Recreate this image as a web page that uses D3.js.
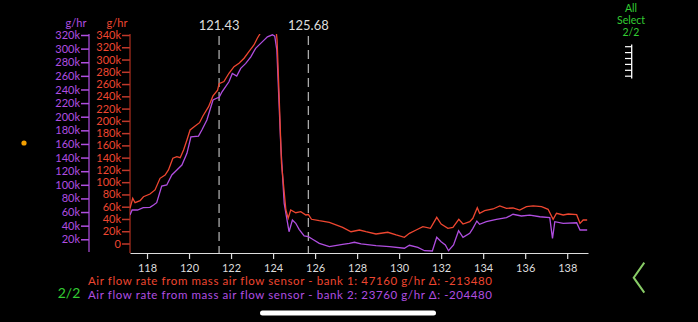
<!DOCTYPE html>
<html>
<head>
<meta charset="utf-8">
<script src="https://cdn.jsdelivr.net/npm/d3@7"></script>
<style>
  html, body { margin: 0; padding: 0; background: #000; }
  svg { display: block; }
  text { font-family: Lato, "Open Sans", sans-serif; }
</style>
</head>
<body>
<svg id="chart" width="698" height="322"></svg>
<script>
// Time stamps (s) and readings (g/hr) for each mass-air-flow bank
const bank1Time = [117.19, 117.32, 117.43, 117.67, 117.83, 118.14, 118.38, 118.62, 118.86, 119.02,
  119.23, 119.42, 119.58, 119.74, 119.90, 120.05, 120.29, 120.50, 120.66, 120.93,
  121.14, 121.36, 121.43, 121.66, 121.90, 122.14, 122.38, 122.62, 122.85, 123.09,
  123.25, 123.38, 123.50, 123.75, 124.00, 124.15, 124.19, 124.29, 124.40, 124.61,
  124.72, 124.84, 125.08, 125.32, 125.56, 125.68, 125.83, 126.20, 126.68, 127.31,
  127.71, 128.11, 128.42, 128.90, 129.46, 129.86, 130.25, 130.49, 130.81, 131.13,
  131.49, 131.79, 132.00, 132.32, 132.56, 132.84, 133.04, 133.36, 133.51, 133.72,
  133.83, 134.07, 134.47, 134.79, 135.11, 135.42, 135.74, 136.06, 136.38, 136.78,
  137.09, 137.33, 137.49, 137.81, 138.05, 138.45, 138.61, 138.76, 138.95];
const bank1Values = [57400, 73700, 66500, 69800, 76300, 80700, 87300, 106300, 111700, 119900,
  139000, 141600, 139900, 152500, 168800, 185100, 191600, 197000, 208000, 223100,
  240600, 250000, 260640, 264000, 277600, 288400, 293900, 302100, 312800, 323700,
  334700, 342000, 352000, 360000, 356000, 345000, 332000, 239400, 130800, 54600,
  41100, 54600, 50200, 51900, 46500, 47160, 39500, 37200, 34600, 26400,
  19200, 22000, 19200, 15500, 18300, 13900, 10100, 16600, 22000, 27400,
  24800, 42700, 31800, 24800, 26400, 39500, 31800, 35600, 41100, 58400,
  49300, 53500, 56300, 61200, 57400, 57900, 54600, 60000, 61200, 60000,
  55800, 39500, 49300, 46500, 48100, 47000, 32900, 38300, 38300];

const bank2Time = [117.19, 117.29, 117.55, 117.82, 118.14, 118.31, 118.46, 118.70, 118.94, 119.18,
  119.42, 119.66, 119.90, 120.09, 120.45, 120.61, 120.85, 121.14, 121.36, 121.43,
  121.57, 121.90, 122.06, 122.27, 122.46, 122.70, 122.94, 123.17, 123.41, 123.57,
  123.73, 123.97, 124.08, 124.18, 124.37, 124.53, 124.76, 124.92, 125.08, 125.24,
  125.48, 125.68, 125.88, 126.20, 126.68, 127.31, 127.63, 127.87, 128.19, 128.90,
  129.54, 130.25, 130.49, 130.89, 131.21, 131.58, 131.79, 132.00, 132.20, 132.35,
  132.59, 132.83, 133.04, 133.36, 133.51, 133.70, 133.83, 134.15, 134.63, 135.11,
  135.42, 135.82, 136.22, 136.70, 137.17, 137.30, 137.41, 137.81, 138.45, 138.61, 138.95];
const bank2Values = [55600, 63000, 63000, 66400, 66900, 70300, 73700, 98200, 99700, 114400,
  121700, 129000, 146200, 170600, 171600, 180400, 195100, 224500, 227800, 228240,
  236600, 251300, 263600, 259700, 271000, 278300, 288000, 300400, 307700, 312500,
  317400, 320300, 318400, 297900, 155900, 72800, 31100, 48300, 43500, 34600,
  24800, 23760, 20000, 14100, 9100, 12600, 14100, 15600, 13100, 10600,
  9100, 6800, 11200, 8200, 3200, 2800, 22900, 16400, 11600, 3200,
  11600, 32600, 22900, 28800, 36100, 46800, 42000, 45800, 49300, 51700,
  56700, 54200, 55600, 53100, 51700, 21400, 45800, 43500, 44300, 33600, 33600];

const xTicks = [118, 120, 122, 124, 126, 128, 130, 132, 134, 136, 138];
const bank1Ticks = d3.range(0, 340001, 20000);
const bank2Ticks = d3.range(20000, 320001, 20000);
const cursorTimes = [121.43, 125.68];
const legendLines = [
  "Air flow rate from mass air flow sensor - bank 1: 47160 g/hr Δ: -213480",
  "Air flow rate from mass air flow sensor - bank 2: 23760 g/hr Δ: -204480"
];

const RED = "#ee4630", PURPLE = "#b04ee0", GREEN = "#33cc33";

const svg = d3.select("#chart");
const plotLeft = 130, plotRight = 588, plotTop = 35, plotBottom = 253;

const x = d3.scaleLinear().domain([117.19, 138.99]).range([plotLeft, plotRight]);
const y1 = d3.scaleLinear().domain([0, 340000]).range([243.5, plotTop]);
const y2 = d3.scaleLinear().domain([0, 320000]).range([252.9, plotTop]);
const fmt = v => v === 0 ? "0" : (v / 1000) + "k";

// plot clip
svg.append("defs").append("clipPath").attr("id", "plotClip")
  .append("rect").attr("x", plotLeft).attr("y", plotTop - 1)
  .attr("width", plotRight - plotLeft).attr("height", plotBottom - plotTop + 1);

// bank 2 axis (purple)
const ax2 = svg.append("g").attr("transform", "translate(89,0)")
  .call(d3.axisLeft(y2).tickValues(bank2Ticks).tickFormat(fmt).tickSize(8).tickPadding(1).tickSizeOuter(0));
ax2.select(".domain").remove();
ax2.selectAll("line").attr("stroke", PURPLE).attr("stroke-width", 1.5);
ax2.selectAll("text").attr("fill", PURPLE).attr("font-size", 11).attr("font-family", "Lato, sans-serif");
svg.append("line").attr("x1", 89).attr("x2", 89).attr("y1", plotTop - 1).attr("y2", 252)
  .attr("stroke", PURPLE).attr("stroke-width", 1.2);
svg.append("text").attr("x", 76).attr("y", 27).attr("text-anchor", "middle")
  .attr("fill", PURPLE).attr("font-size", 11).text("g/hr");

// bank 1 axis (red)
const ax1 = svg.append("g").attr("transform", `translate(${plotLeft},0)`)
  .call(d3.axisLeft(y1).tickValues(bank1Ticks).tickFormat(fmt).tickSize(8).tickPadding(1).tickSizeOuter(0));
ax1.select(".domain").remove();
ax1.selectAll("line").attr("stroke", "#c0392b").attr("stroke-width", 1.5);
ax1.selectAll("text").attr("fill", RED).attr("font-size", 11).attr("font-family", "Lato, sans-serif");
svg.append("line").attr("x1", plotLeft).attr("x2", plotLeft).attr("y1", plotTop - 1).attr("y2", plotBottom)
  .attr("stroke", "#b0301f").attr("stroke-width", 1.2);
svg.append("text").attr("x", 117).attr("y", 27).attr("text-anchor", "middle")
  .attr("fill", RED).attr("font-size", 11).text("g/hr");

// time axis
const axX = svg.append("g").attr("transform", `translate(0,${plotBottom})`)
  .call(d3.axisBottom(x).tickValues(xTicks).tickFormat(d3.format("d")).tickSize(6).tickPadding(5).tickSizeOuter(0));
axX.select(".domain").attr("stroke", "#ddd").attr("stroke-width", 1.2);
axX.selectAll("line").attr("stroke", "#ddd").attr("stroke-width", 1.2);
axX.selectAll("text").attr("fill", "#ddd").attr("font-size", 11).attr("font-family", "Lato, sans-serif");

// cursors
cursorTimes.forEach(t => {
  svg.append("line").attr("x1", x(t)).attr("x2", x(t)).attr("y1", plotTop + 1).attr("y2", plotBottom)
    .attr("stroke", "#aaa").attr("stroke-width", 1.3).attr("stroke-dasharray", "9,5");
  svg.append("text").attr("x", x(t)).attr("y", 30).attr("text-anchor", "middle")
    .attr("fill", "#ddd").attr("font-size", 13).text(t.toFixed(2));
});

// series lines
const plot = svg.append("g").attr("clip-path", "url(#plotClip)");
const line1 = d3.line().x((d, i) => x(bank1Time[i])).y(d => y1(d));
const line2 = d3.line().x((d, i) => x(bank2Time[i])).y(d => y2(d));
plot.append("path").datum(bank2Values).attr("d", line2)
  .attr("fill", "none").attr("stroke", PURPLE).attr("stroke-width", 1.3);
plot.append("path").datum(bank1Values).attr("d", line1)
  .attr("fill", "none").attr("stroke", RED).attr("stroke-width", 1.3);

// legend
svg.append("text").attr("x", 88).attr("y", 285).attr("fill", RED).attr("font-size", 11.5)
  .attr("letter-spacing", 0.6).text(legendLines[0]);
svg.append("text").attr("x", 88).attr("y", 298.5).attr("fill", PURPLE).attr("font-size", 11.5)
  .attr("letter-spacing", 0.6).text(legendLines[1]);
svg.append("text").attr("x", 69).attr("y", 298).attr("text-anchor", "middle").attr("fill", GREEN).attr("font-size", 14).text("2/2");

// side controls
svg.append("circle").attr("cx", 24).attr("cy", 143).attr("r", 2.6).attr("fill", "#f5a000");
["All", "Select", "2/2"].forEach((s, i) => {
  svg.append("text").attr("x", 631).attr("y", 12 + i * 12).attr("text-anchor", "middle")
    .attr("fill", GREEN).attr("font-size", 10.5).text(s);
});
svg.append("line").attr("x1", 631.7).attr("x2", 631.7).attr("y1", 44.5).attr("y2", 78.5)
  .attr("stroke", "#fff").attr("stroke-width", 1.3);
d3.range(6).forEach(i => {
  svg.append("line").attr("x1", 625).attr("x2", 631.7).attr("y1", 46.7 + i * 5.9).attr("y2", 46.7 + i * 5.9)
    .attr("stroke", "#fff").attr("stroke-width", 1.2);
});
svg.append("path").attr("d", "M644.3,262.7 L633.7,277.7 L644.3,292.7")
  .attr("fill", "none").attr("stroke", "#88cc66").attr("stroke-width", 2);
svg.append("rect").attr("x", 260).attr("y", 310.5).attr("width", 176).attr("height", 5).attr("rx", 2.5)
  .attr("fill", "#fff");
</script>
</body>
</html>
